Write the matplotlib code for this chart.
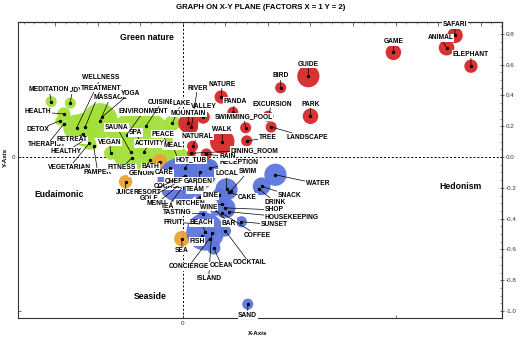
import matplotlib
matplotlib.use('Agg')
import matplotlib.pyplot as plt
from matplotlib.ticker import MultipleLocator, FixedLocator, FixedFormatter

plt.rcParams['font.family'] = ['Liberation Sans', 'DejaVu Sans']
plt.rcParams['axes.unicode_minus'] = False

# ---- data: factor scores (x = factor 1, y = factor 2) and bubble weight ----
green_terms = ['STUDY', 'MEDITATION', 'HEALTH', 'DETOX', 'THERAPIST', 'WELLNESS',
               'TREATMENT', 'MASSAGE', 'YOGA', 'RETREAT', 'HEALTHY', 'VEGETARIAN',
               'PAMPER', 'VEGAN', 'SPA', 'SAUNA', 'ENVIRONMENT', 'ACTIVITY',
               'FITNESS', 'CUISINE', 'PEACE', 'MEAL', 'GENUINE', 'LAKE']
green_x = [-0.53, -0.62, -0.56, -0.58, -0.56, -0.50, -0.46, -0.39, -0.38, -0.47,
           -0.475, -0.44, -0.42, -0.34, -0.20, -0.245, -0.265, -0.185, -0.24,
           -0.175, -0.07, -0.025, -0.155, -0.05]
green_y = [0.35, 0.36, 0.28, 0.235, 0.215, 0.19, 0.195, 0.235, 0.26, 0.15, 0.10,
           0.09, 0.07, 0.025, 0.10, 0.03, 0.145, 0.03, -0.005, 0.20, 0.058,
           -0.005, -0.02, 0.22]
green_w = [5, 5, 6, 4, 3, 12, 13, 16, 10, 5, 4, 6, 3, 6, 29, 4, 4, 5, 4, 6, 6, 10, 4, 7]

orange_terms = ['BATH', 'JUICE', 'SEA']
orange_x = [-0.11, -0.27, -0.005]
orange_y = [-0.03, -0.16, -0.53]
orange_w = [7, 6, 7]

red_terms = ['SAFARI', 'ANIMAL', 'ELEPHANT', 'GAME', 'GUIDE', 'BIRD', 'PARK',
             'EXCURSION', 'SWIMMING_POOL', 'LANDSCAPE', 'TREE', 'NATURE', 'PANDA',
             'VALLEY', 'RIVER', 'MOUNTAIN', 'WALK', 'NATURAL', 'DINING_ROOM', 'RAIN']
red_x = [1.28, 1.24, 1.355, 0.99, 0.59, 0.46, 0.60, 0.40, 0.295, 0.415, 0.30, 0.18,
         0.235, 0.095, 0.04, 0.025, 0.185, 0.045, 0.04, 0.11]
red_y = [0.79, 0.71, 0.59, 0.68, 0.525, 0.45, 0.265, 0.265, 0.19, 0.195, 0.105,
         0.39, 0.29, 0.26, 0.195, 0.22, 0.10, 0.07, 0.025, 0.02]
red_w = [7, 7, 6, 7, 10, 5, 7, 5, 5, 5, 5, 6, 5, 6, 6, 9, 11, 5, 4, 5]

blue_terms = ['HOT_TUB', 'COURSE', 'CHEF', 'GARDEN', 'TEAM', 'RESORT', 'GOLF', 'MENU',
              'TEA', 'CARE', 'RECEPTION', 'KITCHEN', 'DINE', 'WINE', 'LOCAL', 'SWIM',
              'CAKE', 'WATER', 'SNACK', 'DRINK', 'SHOP', 'HOUSEKEEPING', 'SUNSET',
              'BAR', 'COFFEE', 'BEACH', 'FRUIT', 'TASTING', 'FISH', 'ISLAND',
              'CONCIERGE', 'OCEAN', 'COCKTAIL', 'SAND']
blue_x = [0.01, -0.015, 0.01, 0.08, 0.065, -0.035, -0.04, -0.025, -0.005, -0.06,
          0.125, 0.08, 0.17, 0.185, 0.205, 0.225, 0.215, 0.435, 0.37, 0.36, 0.20,
          0.215, 0.275, 0.155, 0.185, 0.105, 0.08, 0.095, 0.09, 0.135, 0.125,
          0.145, 0.20, 0.305]
blue_y = [-0.07, -0.15, -0.12, -0.10, -0.16, -0.15, -0.175, -0.19, -0.20, -0.07,
          -0.07, -0.26, -0.245, -0.305, -0.21, -0.22, -0.23, -0.115, -0.19, -0.21,
          -0.33, -0.355, -0.42, -0.345, -0.365, -0.485, -0.435, -0.37, -0.515,
          -0.495, -0.53, -0.59, -0.48, -0.955]
blue_w = [10, 20, 4, 15, 4, 4, 3, 3, 3, 4, 8, 4, 6, 5, 10, 4, 4, 10, 8, 5, 9, 5, 5,
          5, 4, 17, 4, 4, 4, 5, 4, 6, 5, 5]

y_ticks = [0.8, 0.6, 0.4, 0.2, 0.0, -0.2, -0.4, -0.6, -0.8, -1.0]

# label placement (offset from the point, in pixels)
label_offset = {
    'MEDITATION': (-2, 12), 'STUDY': (2, 13), 'HEALTH': (-26, 2), 'DETOX': (-22, -9),
    'THERAPIST': (-17, -21), 'WELLNESS': (24, 50), 'TREATMENT': (16, 39),
    'MASSAGE': (10, 23), 'YOGA': (28, 24), 'RETREAT': (-11, -6), 'HEALTHY': (-16, -10),
    'VEGETARIAN': (-20, -24), 'PAMPER': (4, -26), 'VEGAN': (-1, 11), 'SPA': (-5, 9),
    'SAUNA': (-14, 25), 'ENVIRONMENT': (17, 23), 'ACTIVITY': (6, 9),
    'FITNESS': (-10, -10), 'CUISINE': (16, 24), 'PEACE': (-5, 14), 'MEAL': (-5, 12),
    'GENUINE': (-6, -13), 'LAKE': (9, 20),
    'BATH': (-9, -5), 'JUICE': (0, -11), 'SEA': (0, -12),
    'SAFARI': (0, 11), 'ANIMAL': (-6, 10), 'ELEPHANT': (0, 12), 'GAME': (0, 11),
    'GUIDE': (0, 12), 'BIRD': (0, 12), 'PARK': (0, 12), 'EXCURSION': (4, 12),
    'SWIMMING_POOL': (-2, 11), 'LANDSCAPE': (36, -10), 'TREE': (21, 3),
    'NATURE': (1, 13), 'PANDA': (2, 11), 'VALLEY': (1, 11), 'RIVER': (6, 39),
    'MOUNTAIN': (0, 10), 'WALK': (0, 12), 'NATURAL': (5, 10), 'DINING_ROOM': (63, 3),
    'RAIN': (21, -3),
    'HOT_TUB': (6, 8), 'COURSE': (-12, -6), 'CHEF': (-11, -6), 'GARDEN': (-2, -9),
    'TEAM': (-1, -8), 'RESORT': (-28, -12), 'GOLF': (-25, -14), 'MENU': (-21, -17),
    'TEA': (-14, -19), 'CARE': (-6, -5), 'RECEPTION': (29, 5), 'KITCHEN': (-10, -6),
    'DINE': (-9, -1), 'WINE': (-14, -3), 'LOCAL': (0, 16), 'SWIM': (17, 19),
    'CAKE': (19, -5), 'WATER': (42, -9), 'SNACK': (28, -9), 'DRINK': (16, -13),
    'SHOP': (49, -2), 'HOUSEKEEPING': (63, -6), 'SUNSET': (33, -3), 'BAR': (13, -13),
    'COFFEE': (35, -22), 'BEACH': (-4, 9), 'FRUIT': (-27, 2), 'TASTING': (-26, 2),
    'FISH': (-5, -5), 'ISLAND': (-3, -45), 'CONCIERGE': (-21, -28), 'OCEAN': (8, -18),
    'COCKTAIL': (24, -32), 'SAND': (0, -11),
}

groups = [
    (green_terms, green_x, green_y, green_w, '#a3e03a'),
    (orange_terms, orange_x, orange_y, orange_w, '#e9a434'),
    (blue_terms, blue_x, blue_y, blue_w, '#5d76da'),
    (red_terms, red_x, red_y, red_w, '#d62828'),
]

fig = plt.figure(figsize=(5.2, 3.4), dpi=100)
ax = fig.add_axes([18 / 520, 22 / 340, 484 / 520, 296 / 340])
ax.set_xlim(-0.776, 1.501)
ax.set_ylim(-1.045, 0.877)

ax.axhline(0, color='black', lw=0.7, ls=(0, (2, 2)), zorder=1)
ax.axvline(0, color='black', lw=0.7, ls=(0, (2, 2)), zorder=1)

for terms, xs, ys, ws, col in groups:
    sizes = [(1.6 * w) ** 2 for w in ws]
    ax.scatter(xs, ys, s=sizes, color=col, edgecolors='none', alpha=0.95, zorder=2)

for terms, xs, ys, ws, col in groups:
    ax.scatter(xs, ys, s=2, color='black', zorder=4)
    for t, x, y in zip(terms, xs, ys):
        dx, dy = label_offset[t]
        ax.annotate(t, xy=(x, y), xytext=(dx, dy), textcoords='offset pixels',
                    ha='center', va='center', fontsize=4.8, fontweight='bold',
                    bbox=dict(boxstyle='square,pad=0.1', fc='white', ec='none'),
                    arrowprops=dict(arrowstyle='-', lw=0.5, color='black',
                                    shrinkA=0, shrinkB=0),
                    zorder=5)

# quadrant names
qkw = dict(transform=ax.transAxes, fontsize=6.2, fontweight='bold', ha='center', va='center')
ax.text(0.267, 0.946, 'Green nature', **qkw)
ax.text(0.085, 0.416, 'Eudaimonic', **qkw)
ax.text(0.915, 0.443, 'Hedonism', **qkw)
ax.text(0.273, 0.071, 'Seaside', **qkw)

# axes ticks
ax.set_xticks([0, 1])
ax.set_xticklabels(['0', ''])
ax.set_yticks([-1, 0])
ax.set_yticklabels(['', '0'])
ax.tick_params(direction='in', length=2, width=0.5, labelsize=4.5, pad=2, colors='#333333')
for sp in ax.spines.values():
    sp.set_linewidth(0.8)
    sp.set_color('#333333')

top = ax.secondary_xaxis('top')
top.xaxis.set_major_locator(MultipleLocator(0.2))
top.xaxis.set_minor_locator(MultipleLocator(0.05))
top.tick_params(which='major', direction='in', length=3, width=0.5, labeltop=False, colors='#333333')
top.tick_params(which='minor', direction='in', length=1.5, width=0.4, colors='#555555')

right = ax.secondary_yaxis('right')
right.yaxis.set_major_locator(FixedLocator(y_ticks))
right.yaxis.set_major_formatter(FixedFormatter(['%.1f' % v for v in y_ticks]))
right.yaxis.set_minor_locator(MultipleLocator(0.05))
right.tick_params(which='major', direction='inout', length=3, width=0.5, labelsize=4.5, pad=1.5, colors='#333333')
right.tick_params(which='minor', direction='in', length=1.5, width=0.4, colors='#555555')

fig.text(0.502, 0.979, 'GRAPH ON X-Y PLANE (FACTORS X = 1 Y = 2)', ha='center', va='center',
         fontsize=5.6, fontweight='bold')
fig.text(0.496, 0.02, 'X-Axis', ha='center', va='center', fontsize=4.5, fontweight='bold')
fig.text(0.01, 0.538, 'Y-Axis', ha='center', va='center', fontsize=4.5, fontweight='bold', rotation=90)

fig.savefig('out.png', dpi=100)
